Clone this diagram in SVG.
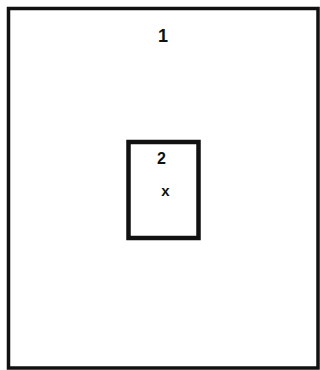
<svg xmlns="http://www.w3.org/2000/svg" width="320" height="370" viewBox="0 0 320 370">
<style>
.box{fill:#fff;stroke:#111;}
.t{font-family:"Liberation Sans",Arial,sans-serif;fill:#111;text-anchor:middle;font-weight:bold;}
</style>
<rect width="320" height="370" fill="#fff"/>
<g id="node1">
<rect class="box" x="8.5" y="8.5" width="309.5" height="359.5" stroke-width="3.5"/>
<text class="t" x="163" y="41.5" font-size="18">1</text>
</g>
<g id="node2">
<rect class="box" x="128.5" y="142" width="70" height="96" stroke-width="4.5"/>
<text class="t" x="161.5" y="163.5" font-size="16">2</text>
<text class="t" x="165.5" y="195.5" font-size="15">x</text>
</g>
<g id="connectors"></g>
</svg>
